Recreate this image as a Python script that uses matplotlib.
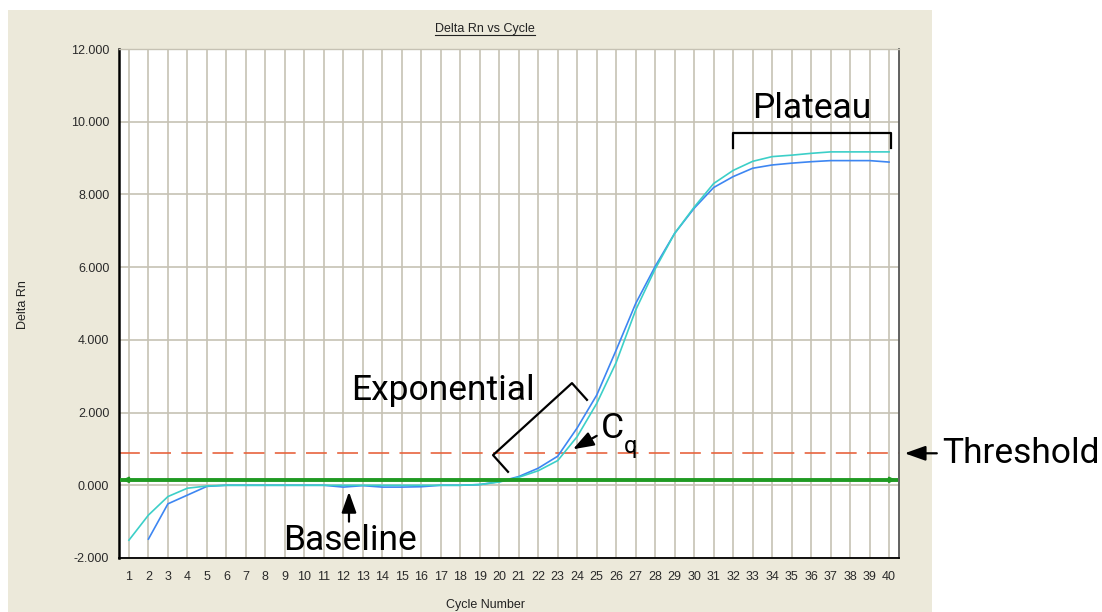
import matplotlib
matplotlib.use("Agg")
import matplotlib.pyplot as plt
from matplotlib.patches import Rectangle
from matplotlib.lines import Line2D
import numpy as np

cycles = list(range(1, 41))
cyan_rn = [-1.51, -0.82, -0.31, -0.08, -0.02, 0.0, 0.0, 0.0, 0.0, 0.0,
           0.0, 0.0, 0.0, 0.0, 0.0, 0.0, 0.0, 0.0, 0.02, 0.09,
           0.22, 0.40, 0.68, 1.34, 2.25, 3.38, 4.82, 5.95, 6.93, 7.65,
           8.30, 8.66, 8.91, 9.04, 9.08, 9.13, 9.17, 9.17, 9.17, 9.17]
blue_rn = [np.nan, -1.48, -0.51, -0.27, -0.03, 0.0, 0.0, 0.0, 0.0, 0.0,
           0.0, -0.05, -0.01, -0.05, -0.05, -0.04, 0.0, 0.0, 0.02, 0.10,
           0.24, 0.47, 0.80, 1.58, 2.48, 3.72, 5.00, 6.02, 6.93, 7.62,
           8.19, 8.49, 8.72, 8.81, 8.86, 8.90, 8.93, 8.93, 8.93, 8.89]
threshold = 0.88
baseline_level = 0.15
y_ticks = [-2, 0, 2, 4, 6, 8, 10, 12]

W, H = 1102, 612
fig = plt.figure(figsize=(W / 100, H / 100), dpi=100)
fig.patch.set_facecolor("white")
fig.add_artist(Rectangle((8 / W, 0), 924 / W, (H - 10) / H, transform=fig.transFigure,
                         facecolor="#ece9da", edgecolor="none", zorder=-10))

ax = fig.add_axes([119 / W, 1 - 558 / H, 780 / W, 509 / H])
ax.set_facecolor("white")
ax.set_xlim(0.49, 40.51)
ax.set_ylim(-2, 12)
ax.set_xticks(cycles)
ax.set_xticklabels([str(c) for c in cycles])
ax.set_yticks(y_ticks)
ax.set_yticklabels([f"{v:.3f}" for v in y_ticks])
for lab in ax.get_xticklabels() + ax.get_yticklabels():
    lab.set_fontfamily("Liberation Sans")
    lab.set_fontsize(9)
    lab.set_color("#2a2a2a")
ax.tick_params(axis="both", length=0)
ax.tick_params(axis="x", pad=9)
ax.tick_params(axis="y", pad=7)
ax.grid(True, color="#c6c2b4", lw=1.2)
ax.set_axisbelow(True)
ax.spines["left"].set_color("black")
ax.spines["left"].set_linewidth(1.8)
ax.spines["bottom"].set_color("black")
ax.spines["bottom"].set_linewidth(1.3)
ax.spines["right"].set_color("#555555")
ax.spines["right"].set_linewidth(1.3)
ax.spines["top"].set_color("#c6c2b4")
ax.spines["top"].set_linewidth(1.0)

# threshold
ax.axhline(threshold, color="#e8643e", lw=1.2, dashes=(12.5, 6.2), zorder=2)
# curves
ax.plot(cycles, blue_rn, color="#3d86f2", lw=1.2, zorder=3)
ax.plot(cycles, cyan_rn, color="#3ccfc8", lw=1.2, zorder=4)
# green baseline bar with arrows
green = "#1f9a22"
ax.plot([0.52, 40.48], [baseline_level, baseline_level], color=green, lw=2.8, zorder=5,
        solid_capstyle="butt")
ax.annotate("", xy=(0.52, baseline_level), xytext=(1.2, baseline_level),
            arrowprops=dict(arrowstyle="->", color=green, lw=1.5, mutation_scale=8), zorder=6)
ax.annotate("", xy=(40.48, baseline_level), xytext=(39.8, baseline_level),
            arrowprops=dict(arrowstyle="->", color=green, lw=1.5, mutation_scale=8), zorder=6)

ann = dict(family="Roboto", size=25.5, color="black")
arrow_style = dict(arrowstyle="-|>,head_length=0.45,head_width=0.16", color="black",
                   lw=1.6, mutation_scale=28, shrinkA=0, shrinkB=0)
# Plateau
ax.text(36.04, 10.37, "Plateau", ha="center", va="center", **ann)
ax.plot([31.97, 31.97, 40.08, 40.08], [9.27, 9.68, 9.68, 9.27], color="black", lw=1.6,
        clip_on=False, zorder=7)
# Exponential
ax.text(17.1, 2.62, "Exponential", ha="center", va="center", **ann)
ax.plot([20.45, 19.68, 23.73, 24.5], [0.37, 0.83, 2.81, 2.35], color="black", lw=1.6,
        clip_on=False, zorder=7)
# Cq
ax.text(25.8, 1.57, "C", ha="center", va="center", **ann)
ax.text(26.75, 1.08, "q", ha="center", va="center", family="Roboto", size=17, color="black")
ax.annotate("", xy=(23.78, 0.99), xytext=(25.0, 1.36), arrowprops=arrow_style, zorder=8)
# Baseline
ax.text(12.34, -1.51, "Baseline", ha="center", va="center", zorder=8, **ann)
ax.annotate("", xy=(12.29, -0.18), xytext=(12.29, -1.0), arrowprops=arrow_style, zorder=8)
# Threshold
ax.text(42.75, threshold, "Threshold", ha="left", va="center", clip_on=False, **ann)
ax.annotate("", xy=(40.8, threshold), xytext=(42.45, threshold), arrowprops=arrow_style,
            annotation_clip=False)

# title, axis labels
title = fig.text(485 / W, 1 - 29 / H, "Delta Rn vs Cycle", ha="center", va="center",
                 family="Liberation Sans", size=9, color="#222222")
fig.text(486 / W, 1 - 605 / H, "Cycle Number", ha="center", va="center",
         family="Liberation Sans", size=9, color="#222222")
fig.text(23 / W, 1 - 305 / H, "Delta Rn", ha="center", va="center", rotation=90,
         family="Liberation Sans", size=9, color="#222222")

fig.canvas.draw()
bb = title.get_window_extent().transformed(fig.transFigure.inverted())
fig.add_artist(Line2D([bb.x0, bb.x1], [bb.y0 + 0.5 / H, bb.y0 + 0.5 / H],
                      transform=fig.transFigure, color="#222222", lw=0.8))

fig.savefig("out.png", dpi=100)
